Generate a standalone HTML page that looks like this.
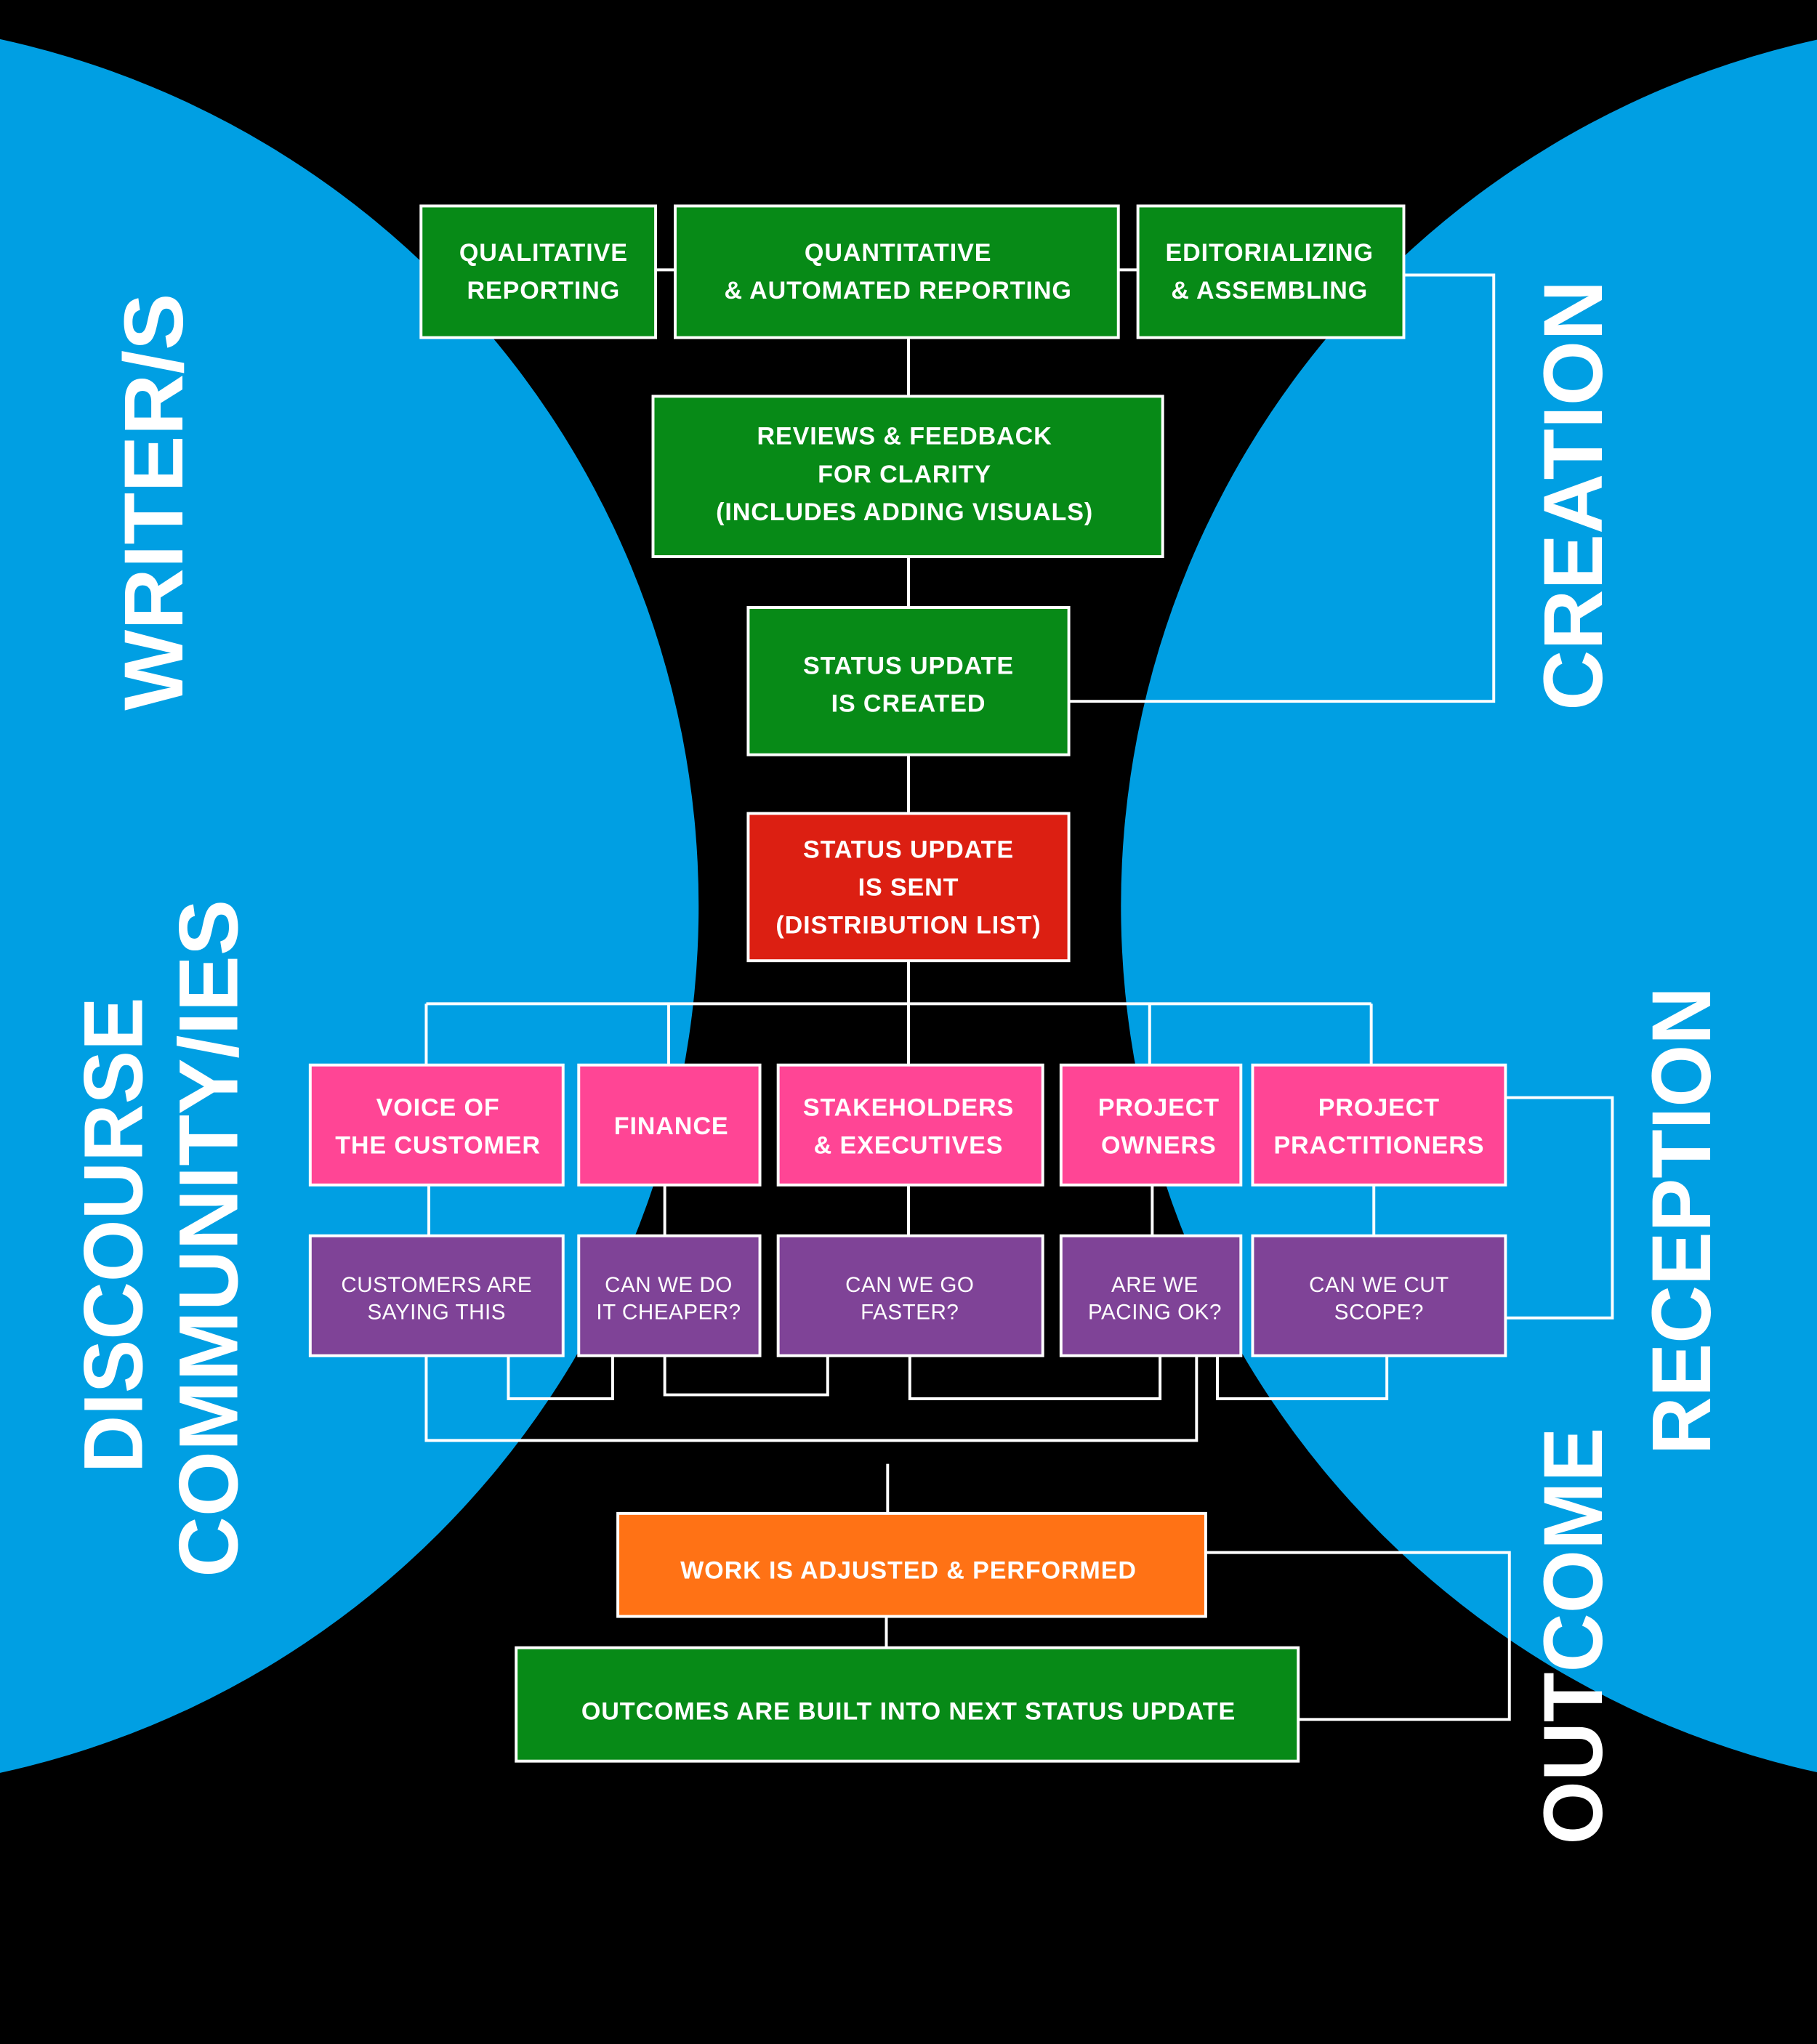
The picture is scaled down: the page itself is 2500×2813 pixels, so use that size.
<!DOCTYPE html>
<html><head><meta charset="utf-8"><style>
html,body{margin:0;padding:0;background:#000;}
svg{display:block;}
text{font-family:"Liberation Sans",sans-serif;fill:#fff;}
.b{font-weight:bold;font-size:19px;letter-spacing:0.5px;}
.r{font-size:16.5px;letter-spacing:0.3px;}
.big{font-weight:bold;font-size:64px;}
</style></head><body>
<svg width="2500" height="2813" viewBox="0 0 1394 1568" preserveAspectRatio="none" xmlns="http://www.w3.org/2000/svg">
<rect width="1394" height="1568" fill="#000"/>
<circle cx="-144.5" cy="695" r="680.5" fill="#009fe3"/>
<circle cx="1540.5" cy="695" r="680.5" fill="#009fe3"/>
<g fill="none" stroke="#fff" stroke-width="2.2">
<path d="M503 207H518M858 207H873"/>
<path d="M1077 211H1146V538H820"/>
<path d="M697 259V304M697 427V466M697 579V624M697 737V770"/>
<path d="M327 770H1052M327 770V817M513 770V817M697 770V817M882 770V817M1052 770V817"/>
<path d="M329 909V948M510 909V948M697 909V948M884 909V948M1054 909V948"/>
<path d="M1155 842H1237V1011H1155"/>
<path d="M327 1040V1105H918V1040"/>
<path d="M390 1040V1073H470V1040"/>
<path d="M510 1040V1070H635V1040"/>
<path d="M698 1040V1073H890V1040"/>
<path d="M934 1040V1073H1064V1040"/>
<path d="M681 1123V1161M680 1240V1264"/>
<path d="M925 1191H1158V1319H996"/>
</g>
<g stroke="#fff" stroke-width="2.2">
<rect x="323" y="158" width="180" height="101" fill="#078a17"/>
<rect x="518" y="158" width="340" height="101" fill="#078a17"/>
<rect x="873" y="158" width="204" height="101" fill="#078a17"/>
<rect x="501" y="304" width="391" height="123" fill="#078a17"/>
<rect x="574" y="466" width="246" height="113" fill="#078a17"/>
<rect x="574" y="624" width="246" height="113" fill="#dc1f12"/>
<rect x="238" y="817" width="194" height="92" fill="#ff4595"/>
<rect x="444" y="817" width="139" height="92" fill="#ff4595"/>
<rect x="597" y="817" width="203" height="92" fill="#ff4595"/>
<rect x="814" y="817" width="138" height="92" fill="#ff4595"/>
<rect x="961" y="817" width="194" height="92" fill="#ff4595"/>
<rect x="238" y="948" width="194" height="92" fill="#7f4397"/>
<rect x="444" y="948" width="139" height="92" fill="#7f4397"/>
<rect x="597" y="948" width="203" height="92" fill="#7f4397"/>
<rect x="814" y="948" width="138" height="92" fill="#7f4397"/>
<rect x="961" y="948" width="194" height="92" fill="#7f4397"/>
<rect x="474" y="1161" width="451" height="79" fill="#ff7215"/>
<rect x="396" y="1264" width="600" height="87" fill="#078a17"/>
</g>
<g text-anchor="middle" class="b">
<text x="417" y="200">QUALITATIVE</text><text x="417" y="229">REPORTING</text>
<text x="689" y="200">QUANTITATIVE</text><text x="689" y="229">&amp; AUTOMATED REPORTING</text>
<text x="974" y="200">EDITORIALIZING</text><text x="974" y="229">&amp; ASSEMBLING</text>
<text x="694" y="341">REVIEWS &amp; FEEDBACK</text><text x="694" y="370">FOR CLARITY</text><text x="694" y="399">(INCLUDES ADDING VISUALS)</text>
<text x="697" y="517">STATUS UPDATE</text><text x="697" y="546">IS CREATED</text>
<text x="697" y="658">STATUS UPDATE</text><text x="697" y="687">IS SENT</text><text x="697" y="716">(DISTRIBUTION LIST)</text>
<text x="336" y="856">VOICE OF</text><text x="336" y="885">THE CUSTOMER</text>
<text x="515" y="870">FINANCE</text>
<text x="697" y="856">STAKEHOLDERS</text><text x="697" y="885">&amp; EXECUTIVES</text>
<text x="889" y="856">PROJECT</text><text x="889" y="885">OWNERS</text>
<text x="1058" y="856">PROJECT</text><text x="1058" y="885">PRACTITIONERS</text>
<text x="697" y="1211">WORK IS ADJUSTED &amp; PERFORMED</text>
<text x="697" y="1319">OUTCOMES ARE BUILT INTO NEXT STATUS UPDATE</text>
</g>
<g text-anchor="middle" class="r">
<text x="335" y="991">CUSTOMERS ARE</text><text x="335" y="1012">SAYING THIS</text>
<text x="513" y="991">CAN WE DO</text><text x="513" y="1012">IT CHEAPER?</text>
<text x="698" y="991">CAN WE GO</text><text x="698" y="1012">FASTER?</text>
<text x="886" y="991">ARE WE</text><text x="886" y="1012">PACING OK?</text>
<text x="1058" y="991">CAN WE CUT</text><text x="1058" y="1012">SCOPE?</text>
</g>
<g class="big">
<text transform="translate(140,545) rotate(-90)" textLength="320" lengthAdjust="spacingAndGlyphs">WRITER/S</text>
<text transform="translate(1229,545) rotate(-90)" textLength="330" lengthAdjust="spacingAndGlyphs">CREATION</text>
<text transform="translate(109,1130) rotate(-90)" textLength="365" lengthAdjust="spacingAndGlyphs">DISCOURSE</text>
<text transform="translate(182,1210) rotate(-90)" textLength="520" lengthAdjust="spacingAndGlyphs">COMMUNITY/IES</text>
<text transform="translate(1312,1116) rotate(-90)" textLength="359" lengthAdjust="spacingAndGlyphs">RECEPTION</text>
<text transform="translate(1229,1415) rotate(-90)" textLength="320" lengthAdjust="spacingAndGlyphs">OUTCOME</text>
</g>
</svg>
</body></html>
